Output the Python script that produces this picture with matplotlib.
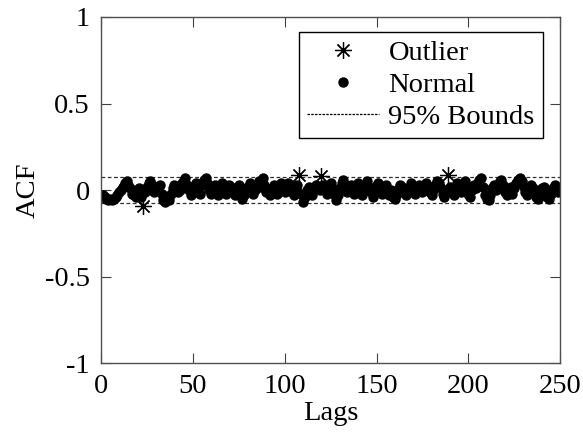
import numpy as np
import matplotlib
matplotlib.use("Agg")
import matplotlib.pyplot as plt
from matplotlib.ticker import FixedLocator, FuncFormatter

plt.rcParams['font.family'] = ['Liberation Serif', 'DejaVu Serif']
plt.rcParams['axes.unicode_minus'] = False

# ACF values (hundredths) for lags 1..250
acf_hundredths = [
    -3, -4, -5, -6, -5, -6, -5, -4, -3, -1,
    0, 2, 4, 5, 3, 1, -2, -3, -4, -2,
    1, -4, -9, -1, 2, 4, 5, 3, -1, 2,
    1, 3, -2, -6, -7, -4, -6, -2, 1, 3,
    2, -1, 0, 4, 6, 7, 3, 0, -3, -1,
    2, 4, 1, -2, 3, 6, 7, 4, 0, -2,
    1, 3, -1, -3, 2, 4, 1, -2, 0, 3,
    2, -1, -3, 1, 3, -2, -5, -3, 1, 2,
    4, 1, -2, 0, 3, 5, 2, 7, 3, -1,
    0, -3, 1, 3, 0, -2, 2, 4, 1, -1,
    2, 4, 3, -1, -3, 1, 3, 8.5, -2, -7,
    -4, 0, 2, -1, -3, 1, 3, 2, 0, 8,
    3, 0, -2, 2, 4, 1, -2, -6, -3, 1,
    4, 6, 2, -1, 1, 3, 0, -2, 2, 4,
    1, -3, 0, 3, 5, 2, -1, -4, 0, 3,
    4, 1, -2, 2, 3, -1, -3, 0, -4, -5,
    -2, 1, 3, 2, -1, -3, 0, 2, 4, 1,
    -2, 0, 3, 1, -1, 2, 4, 1, -1, -3,
    0, 3, 5, 4, 1, -2, -4, -1, 8.5, 2,
    -1, -3, 1, 4, 2, -1, 3, 5, 2, -2,
    -4, 0, 3, 1, 4, 6, 7, 2, -3, -5,
    -6, -3, 1, 3, 0, 2, 5, 6, 3, -1,
    -3, 0, 2, -2, 1, 4, 6, 7, 5, 2,
    -1, -3, 0, 3, 1, -2, -4, -5, -3, 1,
    2, -1, -4, -5, -2, 1, 3, 0, -1, 1,
]
bound = 0.077
x_ticks = [0, 50, 100, 150, 200, 250]
y_ticks = [-1, -0.5, 0, 0.5, 1]

lags = np.arange(1, len(acf_hundredths) + 1)
acf = np.array(acf_hundredths, dtype=float) / 100.0
is_out = np.abs(acf) > bound

FS = 20.5

fig = plt.figure(figsize=(5.83, 4.34), dpi=100)
ax = fig.add_axes([0.173, 0.163, 0.788, 0.798])

ax.axhline(bound, color='#303030', lw=0.9, ls=(0, (3, 2)), zorder=1)
ax.axhline(-bound, color='#303030', lw=0.9, ls=(0, (3, 2)), zorder=1)

h_out, = ax.plot(lags[is_out], acf[is_out], ls='none', marker=(8, 2, 0),
                 ms=12, mec='black', mew=0.9, color='black', zorder=3)
h_norm, = ax.plot(lags[~is_out], acf[~is_out], ls='none', marker='o',
                  ms=6.5, mfc='black', mec='black', zorder=2)
h_b, = ax.plot([], [], color='black', lw=0.9, ls=(0, (2, 1)))

ax.set_xlim(0, 250)
ax.set_ylim(-1, 1)
ax.xaxis.set_major_locator(FixedLocator(x_ticks))
ax.yaxis.set_major_locator(FixedLocator(y_ticks))
ax.yaxis.set_major_formatter(FuncFormatter(lambda v, p: ('%g' % v)))
ax.tick_params(direction='in', length=7, width=0.8, labelsize=FS,
               top=True, right=True, colors='#404040', labelcolor='black')
ax.tick_params(axis='x', pad=8)
ax.tick_params(axis='y', pad=8)
for s in ax.spines.values():
    s.set_color('#505050')
    s.set_linewidth(1.0)

ax.set_xlabel('Lags', fontsize=FS, labelpad=1)
ax.set_ylabel('ACF', fontsize=FS, labelpad=3)

leg = ax.legend([h_out, h_norm, h_b], ['Outlier', 'Normal', '95% Bounds'],
                loc='upper right', bbox_to_anchor=(0.963, 0.957), fontsize=FS,
                frameon=True, fancybox=False, edgecolor='black', framealpha=1,
                handlelength=2.5, handletextpad=0.35, labelspacing=0.2,
                borderpad=0.3, borderaxespad=0.0)
leg.get_frame().set_linewidth(1.0)

fig.savefig('out.png', dpi=100)
